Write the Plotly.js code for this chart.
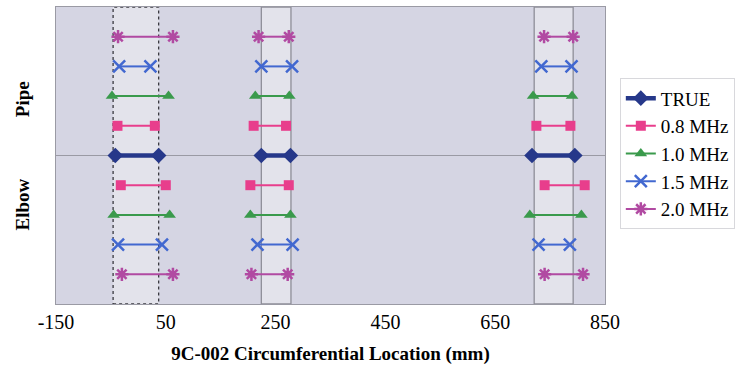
<!DOCTYPE html>
<html>
<head>
<meta charset="utf-8">
<script src="https://cdn.plot.ly/plotly-3.0.1.min.js"></script>
<style>html,body{margin:0;padding:0;background:#fff;}#chart{width:738px;height:381px;}</style>
</head>
<body>
<div id="chart"></div>
<script>
// ---- data (mm) ----
const seriesNames = ['TRUE', '0.8 MHz', '1.0 MHz', '1.5 MHz', '2.0 MHz'];
const rowLabels = ['Elbow', 'Pipe'];
const xTicks = [-150, 50, 250, 450, 650, 850];

// true indication extents (three indications)
const trueStart = [-42, 224, 717];
const trueEnd   = [37, 277, 795];

// Pipe-side estimates
const pipe08Start = [-38, 210, 725];
const pipe08End   = [30, 269, 787];
const pipe10Start = [-48, 213, 719];
const pipe10End   = [55, 275, 790];
const pipe15Start = [-35, 224, 734];
const pipe15End   = [22, 280, 789];
const pipe20Start = [-37, 219, 739];
const pipe20End   = [63, 274, 792];

// Elbow-side estimates
const elbow08Start = [-32, 204, 740];
const elbow08End   = [50, 274, 813];
const elbow10Start = [-45, 204, 713];
const elbow10End   = [57, 277, 807];
const elbow15Start = [-37, 217, 729];
const elbow15End   = [43, 281, 786];
const elbow20Start = [-30, 206, 740];
const elbow20End   = [63, 272, 810];

// reference boxes around the indications
const boxStart = [-46, 224, 721];
const boxEnd   = [37, 278, 792];

// ---- build ----
function segs(starts, ends, level) {
  const x = [], y = [];
  for (let i = 0; i < starts.length; i++) {
    x.push(starts[i], ends[i], null);
    y.push(level, level, null);
  }
  return {x, y};
}
function combine(a, b) {
  return {x: a.x.concat(b.x), y: a.y.concat(b.y)};
}

const mid = 5;
const styles = [
  {color: '#26388A', sym: 'diamond', size: 12, lw: 4.5, mlw: 0},
  {color: '#E83E8C', sym: 'square', size: 10, lw: 2, mlw: 0},
  {color: '#3A9A4C', sym: 'triangle-up', size: 11, lw: 2, mlw: 0},
  {color: '#4268D0', sym: 'x-thin-open', size: 12, lw: 2, mlw: 2.5},
  {color: '#B14AA2', sym: 'asterisk-open', size: 11, lw: 2, mlw: 2.5}
];

const dataSets = [
  segs(trueStart, trueEnd, mid),
  combine(segs(pipe08Start, pipe08End, mid + 1), segs(elbow08Start, elbow08End, mid - 1)),
  combine(segs(pipe10Start, pipe10End, mid + 2), segs(elbow10Start, elbow10End, mid - 2)),
  combine(segs(pipe15Start, pipe15End, mid + 3), segs(elbow15Start, elbow15End, mid - 3)),
  combine(segs(pipe20Start, pipe20End, mid + 4), segs(elbow20Start, elbow20End, mid - 4))
];

const traces = dataSets.map((d, i) => ({
  type: 'scatter', mode: 'lines+markers', name: seriesNames[i],
  x: d.x, y: d.y, connectgaps: false,
  line: {color: styles[i].color, width: styles[i].lw},
  marker: {symbol: styles[i].sym, size: styles[i].size, color: styles[i].color,
           line: {color: styles[i].color, width: styles[i].mlw}}
}));

const shapes = [];
for (let i = 0; i < boxStart.length; i++) {
  shapes.push({
    type: 'rect', xref: 'x', yref: 'paper', x0: boxStart[i], x1: boxEnd[i], y0: 0, y1: 1,
    fillcolor: '#E3E3EB', layer: 'below',
    line: {color: i === 0 ? '#3A3A40' : '#8E8E98', width: 1.3, dash: i === 0 ? 'dot' : 'solid'}
  });
}
shapes.push({type: 'line', xref: 'paper', yref: 'y', x0: 0, x1: 1, y0: mid, y1: mid,
  layer: 'below', line: {color: '#9A9AA4', width: 1}});

const serif = 'Liberation Serif, Times New Roman, serif';
const layout = {
  width: 738, height: 381,
  margin: {l: 56, r: 133, t: 7, b: 77, autoexpand: false},
  paper_bgcolor: '#FFFFFF',
  plot_bgcolor: '#D5D5E3',
  showlegend: true,
  legend: {
    x: 1.027, xanchor: 'left', y: 0.76, yanchor: 'top',
    bgcolor: '#FFFFFF', bordercolor: '#D8D8DC', borderwidth: 1,
    font: {family: serif, size: 19, color: '#000'},
    itemwidth: 30, tracegroupgap: 0
  },
  xaxis: {
    range: [-150, 850], tickvals: xTicks, ticktext: xTicks.map(String),
    showgrid: false, zeroline: false, ticks: '',
    showline: true, mirror: true, linecolor: '#9A9AA4', linewidth: 1,
    tickfont: {family: serif, size: 20, color: '#000'},
    title: {text: '<b>9C-002 Circumferential Location (mm)</b>', font: {family: serif, size: 19, color: '#000'}, standoff: 14}
  },
  yaxis: {
    range: [0, 10], tickvals: [3.25, 6.8], ticktext: rowLabels.map(s => '<b>' + s + '</b>'),
    tickangle: -90, showgrid: false, zeroline: false, ticks: '',
    showline: true, mirror: true, linecolor: '#9A9AA4', linewidth: 1,
    tickfont: {family: serif, size: 19, color: '#000'},
    ticklabelstandoff: 18
  },
  shapes: shapes
};

Plotly.newPlot('chart', traces, layout, {displayModeBar: false, staticPlot: true});
</script>
</body>
</html>
